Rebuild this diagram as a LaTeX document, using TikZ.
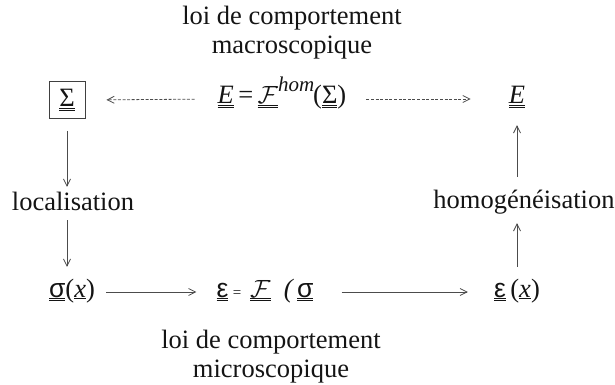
\documentclass[tikz,border=0pt]{standalone}
\usepackage{fontspec}
\setmainfont{Liberation Serif}
\newfontfamily\grk{Liberation Sans}
\usetikzlibrary{arrows.meta}
\newcommand\dul[1]{\ensuremath{\underline{\underline{\hbox{#1}}}}}
\newcommand\sul[1]{\ensuremath{\underline{\hbox{#1}}}}
\begin{document}
\begin{tikzpicture}[x=1pt,y=-1pt,
  lbl/.style={font=\fontsize{26.5}{29}\selectfont, text=black!92, inner sep=0pt, align=center},
  row/.style={lbl, text height=18pt, text depth=8pt},
  arr/.style={draw=black!70, line width=0.8pt, -{Straight Barb[length=7pt,width=7pt]}},
  darr/.style={arr, dash pattern=on 3pt off 1.6pt}]
\useasboundingbox (0,0) rectangle (615,385);
% top label
\node[lbl] (toplbl) at (292,33) {loi de comportement\\macroscopique};
% top row
\node[lbl, draw=black!75, line width=0.8pt, minimum width=36pt, minimum height=37pt] (Sig) at (67,100) {\dul{Σ}};
\node[row] (hom) at (282,99) {\dul{\itshape E}\,=\,\dul{$\mathcal{F}$}\raisebox{13pt}{\fontsize{21}{22}\selectfont\itshape hom}\kern-1pt(\dul{Σ})};
\node[row] (Eright) at (517,99) {\dul{\itshape E}};
% middle labels
\node[row] (loc) at (73,205) {localisation};
\node[row] (homog) at (524,203) {homogénéisation};
% bottom row
\node[row] (sigx) at (72,292) {\dul{\grk σ}(\sul{\itshape x})};
\node[row] (mid) at (265,292) {\dul{\grk ε}\,{\fontsize{15}{15}\selectfont =}\,\,\dul{$\mathcal{F}$}\ \ {\itshape (}\,\dul{\grk σ}};
\node[row] (epsx) at (517,292) {\dul{\grk ε}\,(\sul{\itshape x})};
% bottom label
\node[lbl] (botlbl) at (271,357) {loi de comportement\\microscopique};
% connectors
\draw[darr, shorten <=23pt, shorten >=21pt] (hom.west) -- (Sig.east);
\draw[darr, shorten <=20pt, shorten >=38pt] (hom.east) -- (Eright.west);
\draw[arr, shorten <=12pt, shorten >=5pt] (Sig.south) -- (Sig.south |- loc.north);
\draw[arr, shorten <=2pt, shorten >=12pt] (Sig.south |- loc.south) -- (Sig.south |- sigx.north);
\draw[arr, shorten <=11pt, shorten >=20pt] (sigx.east) -- (mid.west);
\draw[arr, shorten <=28pt, shorten >=26pt] (mid.east) -- (epsx.west);
\draw[arr, shorten <=12pt, shorten >=7pt] (epsx.north) -- (epsx.north |- homog.south);
\draw[arr, shorten <=13pt, shorten >=13pt] (Eright.south |- homog.north) -- (Eright.south);
\end{tikzpicture}
\end{document}
